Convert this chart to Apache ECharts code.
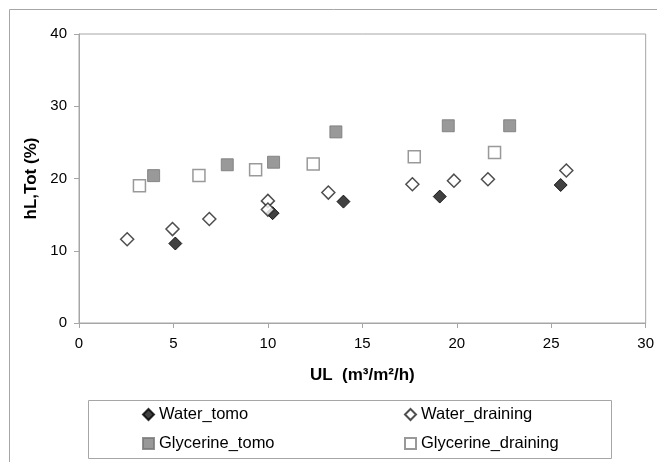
<!DOCTYPE html>
<html>
<head>
<meta charset="utf-8">
<script src="https://cdn.jsdelivr.net/npm/echarts@6/dist/echarts.min.js"></script>
<style>
  html, body { margin: 0; padding: 0; background: #fff; }
  #chart { width: 657px; height: 462px; }
</style>
</head>
<body>
<div id="chart"></div>
<script>
// data: [UL, hL]
const waterTomo = [[5.1, 11.0], [10.25, 15.2], [14.0, 16.8], [19.1, 17.5], [25.5, 19.1]];
const waterDraining = [[2.55, 11.6], [4.95, 13.0], [6.9, 14.4], [10.0, 16.9], [10.0, 15.7],
  [13.2, 18.05], [17.65, 19.2], [19.85, 19.7], [21.65, 19.9], [25.8, 21.1]];
const glyTomo = [[3.95, 20.4], [7.85, 21.9], [10.3, 22.25], [13.6, 26.45], [19.55, 27.3], [22.8, 27.3]];
const glyDraining = [[3.2, 19.0], [6.35, 20.4], [9.35, 21.2], [12.4, 22.0], [17.75, 23.0], [22.0, 23.6]];

const grey = '#a6a6a6';
const font = 'Liberation Sans, Arial, sans-serif';

let mychart = echarts.init(document.getElementById('chart'), null, { renderer: 'canvas' });

let legendText = { fontSize: 16.5, color: '#000', fontFamily: font };

let option = {
  animation: false,
  backgroundColor: '#fff',
  textStyle: { fontFamily: font },
  grid: {
    left: 79, right: 9, top: 34, bottom: 139,
    show: true, borderColor: grey, borderWidth: 1
  },
  xAxis: {
    type: 'value', min: 0, max: 30, interval: 5,
    name: 'UL  (m³/m²/h)', nameLocation: 'middle', nameGap: 44,
    nameTextStyle: { fontSize: 17, fontWeight: 'bold', color: '#000', fontFamily: font },
    axisLine: { show: true, lineStyle: { color: grey, width: 1 } },
    axisTick: { show: true, length: 5, lineStyle: { color: grey } },
    axisLabel: { fontSize: 15, color: '#000', margin: 13, fontFamily: font },
    splitLine: { show: false }
  },
  yAxis: {
    type: 'value', min: 0, max: 40, interval: 10,
    name: 'hL,Tot (%)', nameLocation: 'middle', nameGap: 34,
    nameTextStyle: { fontSize: 17, fontWeight: 'bold', color: '#000', fontFamily: font },
    axisLine: { show: true, lineStyle: { color: grey, width: 1 } },
    axisTick: { show: true, length: 5, lineStyle: { color: grey } },
    axisLabel: { fontSize: 15, color: '#000', margin: 12, fontFamily: font },
    splitLine: { show: false }
  },
  legend: [
    {
      data: ['Water_tomo', 'Glycerine_tomo'],
      orient: 'vertical', left: 142, top: 406, padding: 0,
      itemWidth: 11, itemHeight: 11, itemGap: 12,
      textStyle: legendText
    },
    {
      data: ['Water_draining', 'Glycerine_draining'],
      orient: 'vertical', left: 404, top: 406, padding: 0,
      itemWidth: 11, itemHeight: 11, itemGap: 12,
      textStyle: legendText
    }
  ],
  graphic: [
    { type: 'line', shape: { x1: 9.5, y1: 9.5, x2: 657, y2: 9.5 }, style: { stroke: grey, lineWidth: 1 } },
    { type: 'line', shape: { x1: 9.5, y1: 9.5, x2: 9.5, y2: 462 }, style: { stroke: grey, lineWidth: 1 } },
    { type: 'rect', shape: { x: 88.5, y: 400.5, width: 523, height: 58 },
      style: { fill: 'none', stroke: grey, lineWidth: 1 }, z: -1 }
  ],
  series: [
    {
      name: 'Water_tomo', type: 'scatter', data: waterTomo,
      symbol: 'diamond', symbolSize: 13,
      itemStyle: { color: '#111', borderColor: '#000', borderWidth: 1 }
    },
    {
      name: 'Water_draining', type: 'scatter', data: waterDraining,
      symbol: 'diamond', symbolSize: 13,
      itemStyle: { color: '#fff', borderColor: '#222', borderWidth: 1.5 }
    },
    {
      name: 'Glycerine_tomo', type: 'scatter', data: glyTomo,
      symbol: 'rect', symbolSize: 12,
      itemStyle: { color: '#808080', borderColor: '#777', borderWidth: 1 }
    },
    {
      name: 'Glycerine_draining', type: 'scatter', data: glyDraining,
      symbol: 'rect', symbolSize: 12,
      itemStyle: { color: '#fff', borderColor: '#808080', borderWidth: 1.5 }
    }
  ]
};
mychart.setOption(option);
</script>
</body>
</html>
